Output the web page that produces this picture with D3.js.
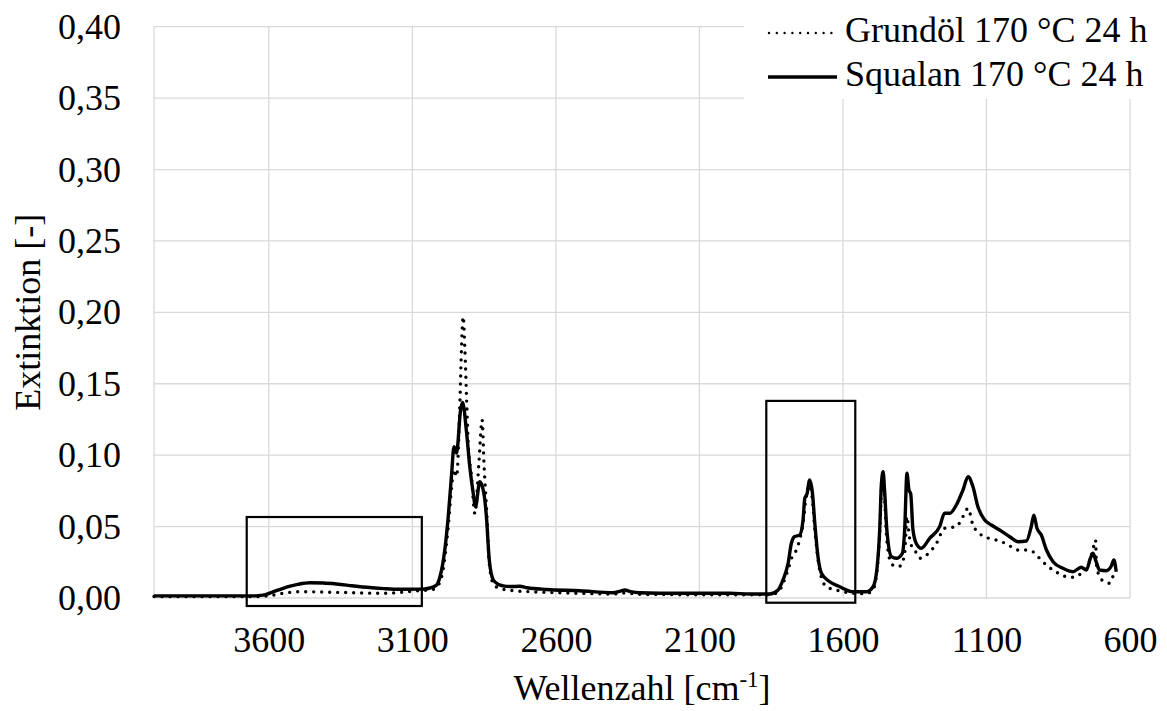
<!DOCTYPE html>
<html>
<head>
<meta charset="utf-8">
<script src="https://cdn.jsdelivr.net/npm/d3@7"></script>
<style>
  body { margin: 0; background: #fff; }
</style>
</head>
<body>
<div id="chart"></div>
<script>
// Squalan 170 °C 24 h (durchgezogen)
const squalanWn = [4000, 3800, 3650, 3620, 3590, 3550, 3500, 3457, 3410, 3364, 3310, 3259, 3200, 3143, 3063, 3039, 3016, 3004, 2987, 2975, 2963, 2955, 2946, 2932, 2925, 2911, 2900, 2888, 2880, 2865, 2851, 2842, 2832, 2818, 2800, 2784, 2760, 2726, 2700, 2633, 2517, 2401, 2375, 2360, 2340, 2308, 2168, 1994, 1925, 1855, 1826, 1809, 1791, 1780, 1768, 1751, 1739, 1733, 1725, 1716, 1706, 1698, 1687, 1675, 1646, 1611, 1565, 1518, 1495, 1482, 1472, 1466, 1460, 1455, 1447, 1431, 1414, 1393, 1385, 1377, 1370, 1364, 1356, 1344, 1327, 1298, 1263, 1246, 1228, 1205, 1182, 1164, 1147, 1130, 1106, 1083, 1054, 1019, 990, 961, 944, 935, 924, 909, 891, 868, 834, 799, 770, 752, 738, 729, 718, 706, 683, 665, 656, 648]
const squalanVal = [0.0015, 0.0015, 0.0015, 0.002, 0.004, 0.0068, 0.0095, 0.0107, 0.0105, 0.0098, 0.0086, 0.0075, 0.0066, 0.0061, 0.0062, 0.007, 0.009, 0.0147, 0.0336, 0.057, 0.0875, 0.106, 0.1015, 0.1316, 0.137, 0.1155, 0.092, 0.0735, 0.064, 0.0814, 0.0735, 0.057, 0.0266, 0.0126, 0.0095, 0.0085, 0.008, 0.0082, 0.0072, 0.006, 0.0051, 0.0037, 0.0048, 0.0056, 0.0045, 0.0037, 0.0033, 0.0033, 0.0028, 0.0028, 0.0056, 0.0126, 0.0243, 0.038, 0.043, 0.044, 0.0546, 0.0698, 0.073, 0.0826, 0.073, 0.0523, 0.029, 0.0173, 0.0114, 0.0079, 0.0044, 0.0044, 0.0079, 0.0196, 0.0476, 0.080, 0.0884, 0.0756, 0.0476, 0.029, 0.0278, 0.0313, 0.0476, 0.0873, 0.0756, 0.073, 0.0476, 0.038, 0.0348, 0.0418, 0.05, 0.0593, 0.0593, 0.0651, 0.0756, 0.0849, 0.0779, 0.064, 0.0546, 0.0511, 0.0476, 0.0429, 0.0394, 0.0399, 0.05, 0.058, 0.0488, 0.0441, 0.0336, 0.0254, 0.0208, 0.0184, 0.0215, 0.0196, 0.0278, 0.0313, 0.0254, 0.0196, 0.0191, 0.0224, 0.0266, 0.0184]

// Grundöl 170 °C 24 h (gepunktet)
const grundoelWn = [4000, 3650, 3600, 3550, 3492, 3376, 3203, 3085, 3028, 3004, 2987, 2975, 2963, 2955, 2946, 2934, 2929, 2923, 2917, 2911, 2906, 2894, 2882, 2868, 2857, 2850, 2842, 2832, 2818, 2800, 2749, 2700, 2517, 2400, 2360, 2300, 2100, 1900, 1855, 1826, 1809, 1791, 1775, 1762, 1751, 1739, 1730, 1716, 1706, 1698, 1681, 1658, 1623, 1580, 1520, 1495, 1482, 1472, 1466, 1460, 1455, 1447, 1431, 1414, 1400, 1385, 1377, 1370, 1364, 1350, 1332, 1309, 1275, 1246, 1205, 1182, 1164, 1147, 1112, 1066, 1031, 990, 961, 938, 915, 891, 868, 845, 822, 799, 770, 743, 727, 720, 717, 706, 689, 671, 660, 654, 648]
const grundoelVal = [0.001, 0.001, 0.0015, 0.0033, 0.0044, 0.004, 0.0033, 0.005, 0.0061, 0.011, 0.028, 0.05, 0.078, 0.09, 0.085, 0.139, 0.174, 0.197, 0.174, 0.139, 0.111, 0.085, 0.059, 0.095, 0.1246, 0.092, 0.064, 0.024, 0.01, 0.007, 0.0051, 0.0045, 0.0033, 0.0028, 0.0035, 0.0025, 0.0023, 0.0023, 0.0023, 0.004, 0.010, 0.020, 0.030, 0.0336, 0.0406, 0.052, 0.068, 0.079, 0.068, 0.048, 0.0196, 0.0079, 0.0056, 0.0037, 0.003, 0.006, 0.018, 0.045, 0.076, 0.085, 0.07, 0.04, 0.024, 0.022, 0.0224, 0.0313, 0.057, 0.045, 0.038, 0.0336, 0.0278, 0.030, 0.038, 0.0488, 0.05, 0.057, 0.0628, 0.0511, 0.0434, 0.0406, 0.038, 0.0336, 0.0336, 0.0324, 0.0278, 0.023, 0.0196, 0.0168, 0.0149, 0.0145, 0.0173, 0.0243, 0.0359, 0.0406, 0.0243, 0.0149, 0.0114, 0.0103, 0.0149, 0.0126, 0.012]

const xTicks = [3600, 3100, 2600, 2100, 1600, 1100, 600]
const yTicks = [0, 0.05, 0.10, 0.15, 0.20, 0.25, 0.30, 0.35, 0.40]

// markierte Bereiche [wn1, wn2, y1, y2]
const boxes = [
    [3677, 3067, -0.0056, 0.0567],
    [1867, 1557, -0.0033, 0.138]
]

const legendItems = [
    {name: "Grundöl 170 °C 24 h", dotted: true},
    {name: "Squalan 170 °C 24 h", dotted: false}
]

const W = 1167, H = 711
const mLeft = 154, mRight = 1130, mTop = 26.7, mBottom = 598
const FONT = "Liberation Serif"

let svg = d3.select("#chart").append("svg")
    .attr("width", W)
    .attr("height", H)
    .attr("font-family", FONT)

let x = d3.scaleLinear().domain([4000, 600]).range([mLeft, mRight])
let y = d3.scaleLinear().domain([0, 0.40]).range([mBottom, mTop])

// Gitter
svg.append("g").selectAll("line")
    .data(yTicks)
    .enter()
    .append("line")
    .attr("x1", mLeft).attr("x2", mRight)
    .attr("y1", d => y(d)).attr("y2", d => y(d))
    .attr("stroke", "#d9d9d9").attr("stroke-width", 1.3)

svg.append("g").selectAll("line")
    .data([4000].concat(xTicks))
    .enter()
    .append("line")
    .attr("x1", d => x(d)).attr("x2", d => x(d))
    .attr("y1", mTop).attr("y2", mBottom)
    .attr("stroke", "#d9d9d9").attr("stroke-width", 1.3)

// Achsenbeschriftung
let yAxis = d3.axisLeft(y).tickValues(yTicks)
    .tickFormat(d => d3.format(".2f")(d).replace(".", ","))
    .tickSize(0).tickPadding(0)
let gy = svg.append("g").attr("transform", "translate(121,0)").call(yAxis)
gy.select(".domain").remove()
gy.attr("font-family", FONT).attr("font-size", 36)
gy.selectAll("text")
    .attr("fill", "#000")
    .attr("dy", "0.32em")

let xAxis = d3.axisBottom(x).tickValues(xTicks).tickFormat(d => d).tickSize(0).tickPadding(0)
let gx = svg.append("g").attr("transform", "translate(0,626)").call(xAxis)
gx.select(".domain").remove()
gx.attr("font-family", FONT).attr("font-size", 36)
gx.selectAll("text")
    .attr("fill", "#000")
    .attr("dy", "0.71em")

// Kurven
let line = d3.line()
    .x(d => x(d[0]))
    .y(d => y(d[1]))
    .curve(d3.curveMonotoneX)

let squalan = squalanWn.map((w, i) => [w, squalanVal[i]])
let grundoel = grundoelWn.map((w, i) => [w, grundoelVal[i]])

svg.append("path")
    .datum(grundoel)
    .attr("d", line)
    .attr("fill", "none")
    .attr("stroke", "#000")
    .attr("stroke-width", 3.4)
    .attr("stroke-linecap", "round")
    .attr("stroke-dasharray", "0 8")

svg.append("path")
    .datum(squalan)
    .attr("d", line)
    .attr("fill", "none")
    .attr("stroke", "#000")
    .attr("stroke-width", 3.4)
    .attr("stroke-linejoin", "round")

// Rahmen um Bereiche
svg.append("g").selectAll("rect")
    .data(boxes)
    .enter()
    .append("rect")
    .attr("x", d => x(d[0]))
    .attr("y", d => y(d[3]))
    .attr("width", d => x(d[1]) - x(d[0]))
    .attr("height", d => y(d[2]) - y(d[3]))
    .attr("fill", "none")
    .attr("stroke", "#000")
    .attr("stroke-width", 2.2)

// Legende
svg.append("rect")
    .attr("x", 744).attr("y", 0)
    .attr("width", W - 744).attr("height", 99)
    .attr("fill", "#fff")

let leg = svg.append("g").selectAll("g")
    .data(legendItems)
    .enter()
    .append("g")
    .attr("transform", (d, i) => "translate(0," + (i * 44) + ")")

leg.append("line")
    .attr("x1", d => d.dotted ? 769 : 768)
    .attr("x2", d => d.dotted ? 832 : 837)
    .attr("y1", 33).attr("y2", 33)
    .attr("stroke", "#000")
    .attr("stroke-width", d => d.dotted ? 2.4 : 3.4)
    .attr("stroke-linecap", d => d.dotted ? "round" : "butt")
    .attr("stroke-dasharray", d => d.dotted ? "0 7.8" : null)

leg.append("text")
    .attr("x", 845)
    .attr("y", 42)
    .attr("font-size", 36)
    .text(d => d.name)

// Titel der Achsen
svg.append("text")
    .attr("transform", "translate(40," + ((mTop + mBottom) / 2) + ") rotate(-90)")
    .attr("text-anchor", "middle")
    .attr("font-size", 36)
    .text("Extinktion [-]")

let xl = svg.append("text")
    .attr("x", (mLeft + mRight) / 2)
    .attr("y", 700)
    .attr("text-anchor", "middle")
    .attr("font-size", 36)
xl.append("tspan").text("Wellenzahl [cm")
xl.append("tspan").attr("dy", -13).attr("font-size", 23).text("-1")
xl.append("tspan").attr("dy", 13).text("]")
</script>
</body>
</html>
